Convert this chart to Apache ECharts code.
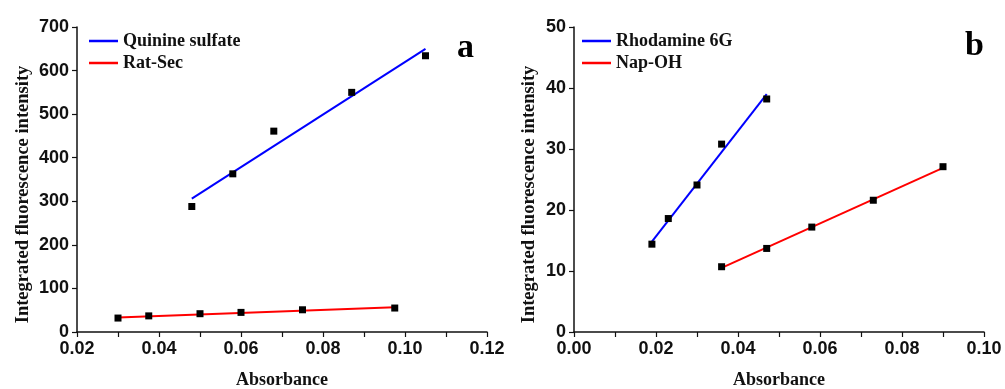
<!DOCTYPE html>
<html>
<head>
<meta charset="utf-8">
<script src="https://cdn.jsdelivr.net/npm/echarts@6/dist/echarts.min.js"></script>
<style>
  html, body { margin: 0; padding: 0; background: #fff; }
  #chart { width: 1005px; height: 389px; }
</style>
</head>
<body>
<div id="chart"></div>
<script>
// panel a: quinine sulfate (reference) vs Rat-Sec
const quinineX = [0.048, 0.058, 0.068, 0.087, 0.105];
const quinineY = [288, 363, 461, 550, 634];
const quinineFitX = [0.048, 0.105];
const quinineFitY = [306, 650];

const ratSecX = [0.030, 0.0375, 0.050, 0.060, 0.075, 0.0975];
const ratSecY = [32, 37, 42, 45, 51, 55];
const ratSecFitX = [0.030, 0.0975];
const ratSecFitY = [33, 57];

// panel b: rhodamine 6G (reference) vs Nap-OH
const rhodX = [0.019, 0.023, 0.030, 0.036, 0.047];
const rhodY = [14.4, 18.6, 24.1, 30.8, 38.2];
const rhodFitX = [0.019, 0.047];
const rhodFitY = [14.8, 39.0];

const napX = [0.036, 0.047, 0.058, 0.073, 0.090];
const napY = [10.7, 13.7, 17.2, 21.6, 27.1];
const napFitX = [0.036, 0.090];
const napFitY = [10.5, 26.9];

const yTitle = 'Integrated fluorescence intensity';
const xTitle = 'Absorbance';

const pairs = (xs, ys) => xs.map((x, i) => [x, ys[i]]);

const serif = '"Liberation Serif", "Times New Roman", serif';
const sans = '"Liberation Sans", Arial, sans-serif';
const ink = '#111';

const myChart = echarts.init(document.getElementById('chart'));

const xAxisBase = (gridIndex, min, max) => ({
  gridIndex: gridIndex,
  type: 'value',
  min: min,
  max: max,
  interval: 0.02,
  name: xTitle,
  nameLocation: 'middle',
  nameGap: 39,
  nameTextStyle: { fontFamily: serif, fontWeight: 'bold', fontSize: 18, color: ink },
  axisLine: { show: true, lineStyle: { color: ink, width: 1.5 } },
  axisTick: { show: true, inside: false, length: 5, lineStyle: { color: ink, width: 1.2 } },
  minorTick: { show: true, splitNumber: 2, length: 5, lineStyle: { color: ink, width: 1.2 } },
  splitLine: { show: false },
  axisLabel: {
    margin: 8,
    fontFamily: sans, fontWeight: 'bold', fontSize: 18, color: ink,
    formatter: (v) => v.toFixed(2)
  }
});

const yAxisBase = (gridIndex, max, interval) => ({
  gridIndex: gridIndex,
  type: 'value',
  min: 0,
  max: max,
  interval: interval,
  name: yTitle,
  nameLocation: 'middle',
  nameRotate: 90,
  nameGap: gridIndex === 0 ? 44 : 35,
  nameTextStyle: {
    fontFamily: serif, fontWeight: 'bold', fontSize: 18.5, color: ink,
    padding: [0, 30, 0, 0]
  },
  axisLine: { show: true, lineStyle: { color: ink, width: 1.5 } },
  axisTick: { show: true, inside: false, length: 5, lineStyle: { color: ink, width: 1.2 } },
  splitLine: { show: false },
  axisLabel: { margin: 8, fontFamily: sans, fontWeight: 'bold', fontSize: 18, color: ink }
});

const legendBase = (left, names) => ({
  orient: 'vertical',
  left: left,
  top: 32,
  padding: 0,
  icon: 'rect',
  itemWidth: 29,
  itemHeight: 2.5,
  itemGap: 4,
  data: names,
  textStyle: { fontFamily: serif, fontWeight: 'bold', fontSize: 18, lineHeight: 18, color: ink }
});

const scatter = (name, xi, data) => ({
  name: name,
  type: 'scatter',
  xAxisIndex: xi,
  yAxisIndex: xi,
  symbol: 'rect',
  symbolSize: 7,
  itemStyle: { color: '#000', opacity: 1 },
  data: data,
  z: 3
});

const fit = (name, xi, color, data) => ({
  name: name,
  type: 'line',
  xAxisIndex: xi,
  yAxisIndex: xi,
  symbol: 'none',
  lineStyle: { color: color, width: 2 },
  itemStyle: { color: color },
  data: data,
  z: 2
});

const option = {
  animation: false,
  grid: [
    { left: 77, top: 27, width: 410, height: 305, outerBoundsMode: 'none' },
    { left: 574, top: 27, width: 410, height: 305, outerBoundsMode: 'none' }
  ],
  xAxis: [xAxisBase(0, 0.02, 0.12), xAxisBase(1, 0, 0.10)],
  yAxis: [yAxisBase(0, 700, 100), yAxisBase(1, 50, 10)],
  legend: [
    legendBase(89, ['Quinine sulfate', 'Rat-Sec']),
    legendBase(582, ['Rhodamine 6G', 'Nap-OH'])
  ],
  graphic: [
    { type: 'text', left: 457, top: 31, style: { text: 'a', font: 'bold 34px ' + serif, fill: '#000' } },
    { type: 'text', left: 965, top: 29, style: { text: 'b', font: 'bold 34px ' + serif, fill: '#000' } }
  ],
  series: [
    fit('Quinine sulfate', 0, '#0000ff', pairs(quinineFitX, quinineFitY)),
    fit('Rat-Sec', 0, '#ff0000', pairs(ratSecFitX, ratSecFitY)),
    scatter('Quinine sulfate points', 0, pairs(quinineX, quinineY)),
    scatter('Rat-Sec points', 0, pairs(ratSecX, ratSecY)),
    fit('Rhodamine 6G', 1, '#0000ff', pairs(rhodFitX, rhodFitY)),
    fit('Nap-OH', 1, '#ff0000', pairs(napFitX, napFitY)),
    scatter('Rhodamine 6G points', 1, pairs(rhodX, rhodY)),
    scatter('Nap-OH points', 1, pairs(napX, napY))
  ]
};

myChart.setOption(option);
</script>
</body>
</html>
